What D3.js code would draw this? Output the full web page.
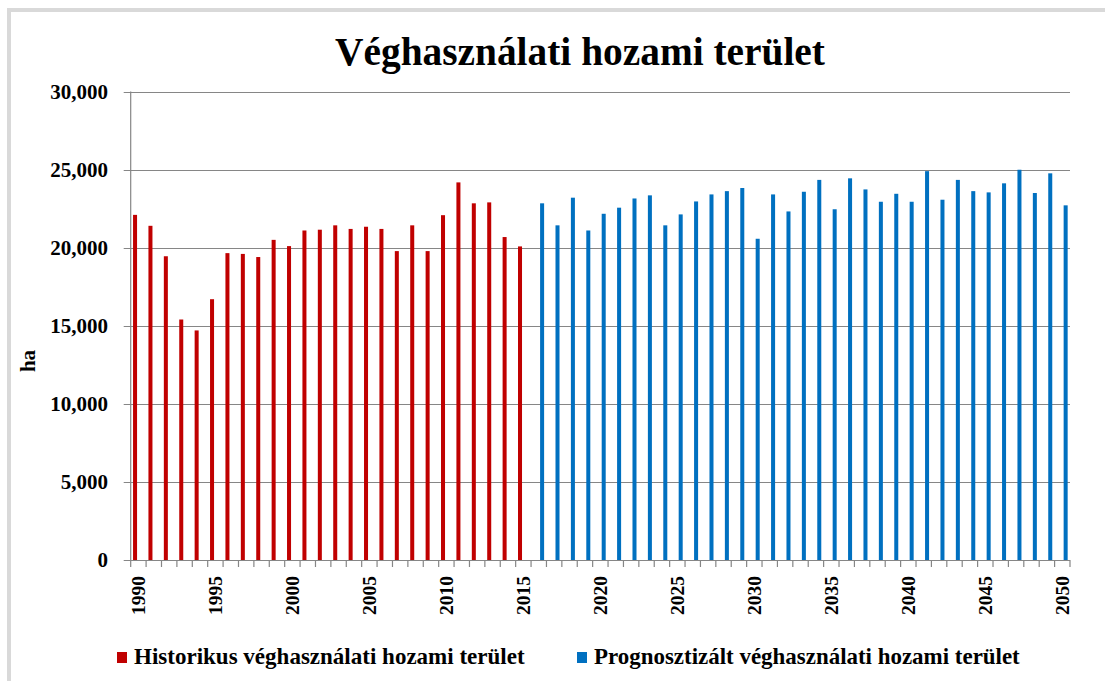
<!DOCTYPE html>
<html><head><meta charset="utf-8">
<script src="https://cdn.jsdelivr.net/npm/d3@7"></script>
<style>
html,body{margin:0;padding:0;background:#fff;}
svg{display:block;}
text{font-family:"Liberation Serif","DejaVu Serif",serif;font-weight:bold;fill:#000;}
</style></head>
<body>
<svg id="chart" width="1105" height="681"></svg>
<script>
const title = "Véghasználati hozami terület";
const yAxisLabel = "ha";
const years = d3.range(1990, 2051);
const histYears = d3.range(1990, 2016);
const histValues = [22100, 21400, 19450, 15400, 14700, 16700, 19650, 19600, 19400, 20500,
  20100, 21100, 21150, 21430, 21200, 21340, 21200, 19780, 21430, 19780,
  22080, 24180, 22840, 22900, 20680, 20080];
const progYears = d3.range(2016, 2051);
const progValues = [22840, 21430, 23200, 21100, 22170, 22560, 23150, 23350, 21430, 22130,
  22960, 23410, 23620, 23820, 20570, 23410, 22320, 23580, 24340, 22460,
  24440, 23730, 22940, 23450, 22940, 24900, 23070, 24340, 23620, 23540,
  24120, 24990, 23500, 24760, 22710];
const yTicks = [0, 5000, 10000, 15000, 20000, 25000, 30000];
const xLabelYears = [1990, 1995, 2000, 2005, 2010, 2015, 2020, 2025, 2030, 2035, 2040, 2045, 2050];
const seriesNames = ["Historikus véghasználati hozami terület", "Prognosztizált véghasználati hozami terület"];
const seriesKeys = ["hist", "prog"];
const colors = ["#C00000", "#0070C0"];

const svg = d3.select("#chart");
// outer frame
svg.append("rect").attr("x", 9).attr("y", 10).attr("width", 1200).attr("height", 800)
  .attr("fill", "none").attr("stroke", "#d9d9d9").attr("stroke-width", 4);

const L = 130.7, R = 1070, T = 91.5, B = 560;
const x = d3.scaleBand().domain(years).range([L, R]).padding(0);
const xs = d3.scaleBand().domain(seriesKeys).range([0, x.bandwidth()]).paddingInner(0.4).paddingOuter(0.35);
const y = d3.scaleLinear().domain([0, 30000]).range([B, T]);

// gridlines
svg.append("g").selectAll("line").data(yTicks).join("line")
  .attr("x1", L - 7).attr("x2", R)
  .attr("y1", d => Math.round(y(d)) + 0.5).attr("y2", d => Math.round(y(d)) + 0.5)
  .attr("stroke", "#868686").attr("stroke-width", 1.2);

// y axis line
svg.append("line").attr("x1", L).attr("x2", L).attr("y1", T).attr("y2", B)
  .attr("stroke", "#868686").attr("stroke-width", 1.2);

// y labels
const fmt = d3.format(",");
svg.append("g").selectAll("text").data(yTicks).join("text")
  .attr("x", 108).attr("y", d => y(d) + 7)
  .attr("text-anchor", "end").attr("font-size", 21)
  .text(d => fmt(d));

// bars
const series = [
  {key: "hist", years: histYears, values: histValues, color: colors[0]},
  {key: "prog", years: progYears, values: progValues, color: colors[1]}
];
series.forEach(s => {
  svg.append("g").selectAll("rect").data(s.years.map((yr, i) => ({yr, v: s.values[i]}))).join("rect")
    .attr("x", d => x(d.yr) + xs(s.key))
    .attr("width", xs.bandwidth())
    .attr("y", d => y(d.v))
    .attr("height", d => y(0) - y(d.v))
    .attr("fill", s.color);
});

// x axis
svg.append("line").attr("x1", L).attr("x2", R).attr("y1", B + 0.5).attr("y2", B + 0.5)
  .attr("stroke", "#868686").attr("stroke-width", 1.2);
const tickPos = years.map(yr => x(yr)).concat([R]);
svg.append("g").selectAll("line").data(tickPos).join("line")
  .attr("x1", d => d).attr("x2", d => d).attr("y1", B).attr("y2", B + 7)
  .attr("stroke", "#868686").attr("stroke-width", 1.2);
svg.append("g").selectAll("text").data(xLabelYears).join("text")
  .attr("transform", d => `translate(${x(d) + x.bandwidth() / 2 + 6.5},576) rotate(-90)`)
  .attr("text-anchor", "end").attr("font-size", 19.5)
  .text(d => d);

// y axis title
svg.append("text").attr("transform", "translate(35,361) rotate(-90)")
  .attr("text-anchor", "middle").attr("font-size", 21).text(yAxisLabel);

// title
const t = svg.append("text").attr("x", 580).attr("y", 65).attr("text-anchor", "middle")
  .attr("font-size", 40).text(title);
const tw = t.node().getComputedTextLength();
t.attr("font-size", 40 * 490 / tw);

// legend
const legendX = [117, 577];
const legendW = [391, 426];
seriesNames.forEach((name, i) => {
  const g = svg.append("g");
  g.append("rect").attr("x", legendX[i]).attr("y", 652).attr("width", 10).attr("height", 11).attr("fill", colors[i]);
  const tx = g.append("text").attr("x", legendX[i] + 17).attr("y", 664).attr("font-size", 21).text(name);
  const w = tx.node().getComputedTextLength();
  tx.attr("font-size", 21 * legendW[i] / w);
});
</script>
</body></html>
